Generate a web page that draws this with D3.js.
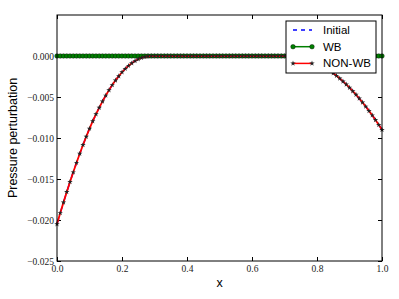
<!DOCTYPE html>
<html>

<head>
    <script src="https://d3js.org/d3.v7.min.js" charset="utf-8"></script>
    <style>
        body {
            margin: 0;
            background: #fff;
        }

        .axis text {
            font-family: "Liberation Serif", "DejaVu Serif", serif;
            font-size: 9.5px;
            fill: #222;
        }

        .axis path {
            display: none;
        }

        .axis line {
            stroke: #000;
        }

        .lbl {
            font-family: "Liberation Sans", Arial, sans-serif;
            fill: #000;
        }
    </style>
</head>

<body>
    <script>
        // x positions 0.00 .. 1.00 in steps of 0.01
        var xs = d3.range(101).map(function (i) { return i / 100; });

        // NON-WB curve
        var nonWbValues = [
            -0.02050, -0.01915, -0.01785, -0.01658, -0.01535, -0.01418, -0.01302, -0.01192, -0.01085, -0.00983,
            -0.00885, -0.00795, -0.00710, -0.00630, -0.00553, -0.00482, -0.00416, -0.00354, -0.00297, -0.00246,
            -0.00198, -0.00156, -0.00119, -0.00088, -0.00061, -0.00039, -0.00022, -0.00010, -0.00003, 0,
            0, 0, 0, 0, 0, 0, 0, 0, 0, 0,
            0, 0, 0, 0, 0, 0, 0, 0, 0, 0,
            0, 0, 0, 0, 0, 0, 0, 0, 0, 0,
            0, 0, 0, 0, 0, 0, 0, 0, 0, 0,
            0, 0, -0.00001, -0.00004, -0.00010, -0.00017, -0.00027, -0.00039, -0.00052, -0.00068,
            -0.00087, -0.00107, -0.00129, -0.00154, -0.00181, -0.00210, -0.00241, -0.00274, -0.00309, -0.00347,
            -0.00386, -0.00428, -0.00472, -0.00518, -0.00566, -0.00616, -0.00669, -0.00723, -0.00780, -0.00839,
            -0.00900
        ];

        // WB stays on zero everywhere
        var wbValues = [
            0, 0, 0, 0, 0, 0, 0, 0, 0, 0,
            0, 0, 0, 0, 0, 0, 0, 0, 0, 0,
            0, 0, 0, 0, 0, 0, 0, 0, 0, 0,
            0, 0, 0, 0, 0, 0, 0, 0, 0, 0,
            0, 0, 0, 0, 0, 0, 0, 0, 0, 0,
            0, 0, 0, 0, 0, 0, 0, 0, 0, 0,
            0, 0, 0, 0, 0, 0, 0, 0, 0, 0,
            0, 0, 0, 0, 0, 0, 0, 0, 0, 0,
            0, 0, 0, 0, 0, 0, 0, 0, 0, 0,
            0, 0, 0, 0, 0, 0, 0, 0, 0, 0,
            0
        ];

        // Initial is hidden under the NON-WB curve
        var initialValues = nonWbValues.slice();

        var xTicks = [0, 0.2, 0.4, 0.6, 0.8, 1.0];
        var yTicks = [0, -0.005, -0.010, -0.015, -0.020, -0.025];

        var margin = { top: 15, right: 17, bottom: 38, left: 57 },
            width = 399 - margin.left - margin.right,
            height = 299 - margin.top - margin.bottom;

        var svg = d3.select("body")
            .append("svg")
            .attr("width", 399)
            .attr("height", 299);

        var g = svg.append("g")
            .attr("transform", "translate(" + margin.left + "," + margin.top + ")");

        var x = d3.scaleLinear().domain([0, 1]).range([0, width]);
        var y = d3.scaleLinear().domain([-0.025, 0.005]).range([height, 0]);

        var minus = function (s) { return s.replace("-", "\u2212"); };

        // axes, ticks pointing inward
        g.append("g")
            .attr("class", "axis")
            .attr("transform", "translate(0," + height + ")")
            .call(d3.axisBottom(x).tickValues(xTicks).tickSizeInner(-4).tickSizeOuter(0).tickPadding(4)
                .tickFormat(d3.format(".1f")));

        g.append("g")
            .attr("class", "axis")
            .call(d3.axisTop(x).tickValues(xTicks).tickSizeInner(-4).tickSizeOuter(0).tickFormat(""));

        g.append("g")
            .attr("class", "axis")
            .call(d3.axisLeft(y).tickValues(yTicks).tickSizeInner(-4).tickSizeOuter(0).tickPadding(3)
                .tickFormat(function (d) { return minus(d3.format(".3f")(d)); }));

        g.append("g")
            .attr("class", "axis")
            .attr("transform", "translate(" + width + ",0)")
            .call(d3.axisRight(y).tickValues(yTicks).tickSizeInner(-4).tickSizeOuter(0).tickFormat(""));

        var line = d3.line()
            .x(function (d) { return x(d[0]); })
            .y(function (d) { return y(d[1]); });

        g.append("clipPath").attr("id", "clip")
            .append("rect").attr("x", -3).attr("y", -3).attr("width", width + 6).attr("height", height + 6);

        var plot = g.append("g").attr("clip-path", "url(#clip)");

        function pairs(vals) {
            return xs.map(function (xv, i) { return [xv, vals[i]]; });
        }

        // Initial
        plot.append("path")
            .datum(pairs(initialValues))
            .attr("d", line)
            .attr("fill", "none")
            .attr("stroke", "blue")
            .attr("stroke-width", 1.5)
            .attr("stroke-dasharray", "6,6");

        // WB
        plot.append("path")
            .datum(pairs(wbValues))
            .attr("d", line)
            .attr("fill", "none")
            .attr("stroke", "green")
            .attr("stroke-width", 1.5);

        plot.selectAll(".wbpt")
            .data(pairs(wbValues))
            .enter()
            .append("circle")
            .attr("cx", function (d) { return x(d[0]); })
            .attr("cy", function (d) { return y(d[1]); })
            .attr("r", 2.3)
            .attr("fill", "green")
            .attr("stroke", "#000")
            .attr("stroke-width", 0.4);

        // NON-WB
        plot.append("path")
            .datum(pairs(nonWbValues))
            .attr("d", line)
            .attr("fill", "none")
            .attr("stroke", "red")
            .attr("stroke-width", 1.8);

        var star = d3.symbol().type(d3.symbolStar).size(9);
        plot.selectAll(".nwpt")
            .data(pairs(nonWbValues))
            .enter()
            .append("path")
            .attr("d", star)
            .attr("transform", function (d) { return "translate(" + x(d[0]) + "," + y(d[1]) + ")"; })
            .attr("fill", "#222")
            .attr("stroke", "none");

        // frame
        g.append("rect")
            .attr("width", width)
            .attr("height", height)
            .attr("fill", "none")
            .attr("stroke", "#000")
            .attr("stroke-width", 1);

        // axis labels
        svg.append("text")
            .attr("class", "lbl")
            .attr("x", margin.left + width / 2)
            .attr("y", 287)
            .attr("text-anchor", "middle")
            .style("font-size", "12.5px")
            .text("x");

        svg.append("text")
            .attr("class", "lbl")
            .attr("transform", "translate(17," + (margin.top + height / 2) + ") rotate(-90)")
            .attr("text-anchor", "middle")
            .style("font-size", "12.5px")
            .text("Pressure perturbation");

        // legend
        var legend = g.append("g").attr("transform", "translate(" + (286 - margin.left) + "," + (21 - margin.top) + ")");
        legend.append("rect")
            .attr("width", 90)
            .attr("height", 52)
            .attr("fill", "#fff")
            .attr("stroke", "#000")
            .attr("stroke-width", 1);

        var items = [
            { name: "Initial", color: "blue", dash: "4,4", mark: null },
            { name: "WB", color: "green", dash: null, mark: "circle" },
            { name: "NON-WB", color: "red", dash: null, mark: "star" }
        ];

        items.forEach(function (it, i) {
            var yy = 9 + i * 16.7;
            legend.append("line")
                .attr("x1", 7).attr("x2", 26)
                .attr("y1", yy).attr("y2", yy)
                .attr("stroke", it.color)
                .attr("stroke-width", 1.5)
                .attr("stroke-dasharray", it.dash);
            [7, 26].forEach(function (px) {
                if (it.mark === "circle") {
                    legend.append("circle").attr("cx", px).attr("cy", yy).attr("r", 2.3)
                        .attr("fill", "green").attr("stroke", "#000").attr("stroke-width", 0.4);
                } else if (it.mark === "star") {
                    legend.append("path").attr("d", star)
                        .attr("transform", "translate(" + px + "," + yy + ")")
                        .attr("fill", "#222").attr("stroke", "none");
                }
            });
            legend.append("text")
                .attr("class", "lbl")
                .attr("x", 37)
                .attr("y", yy)
                .attr("dy", "0.35em")
                .style("font-size", "11.5px")
                .text(it.name);
        });
    </script>
</body>

</html>
